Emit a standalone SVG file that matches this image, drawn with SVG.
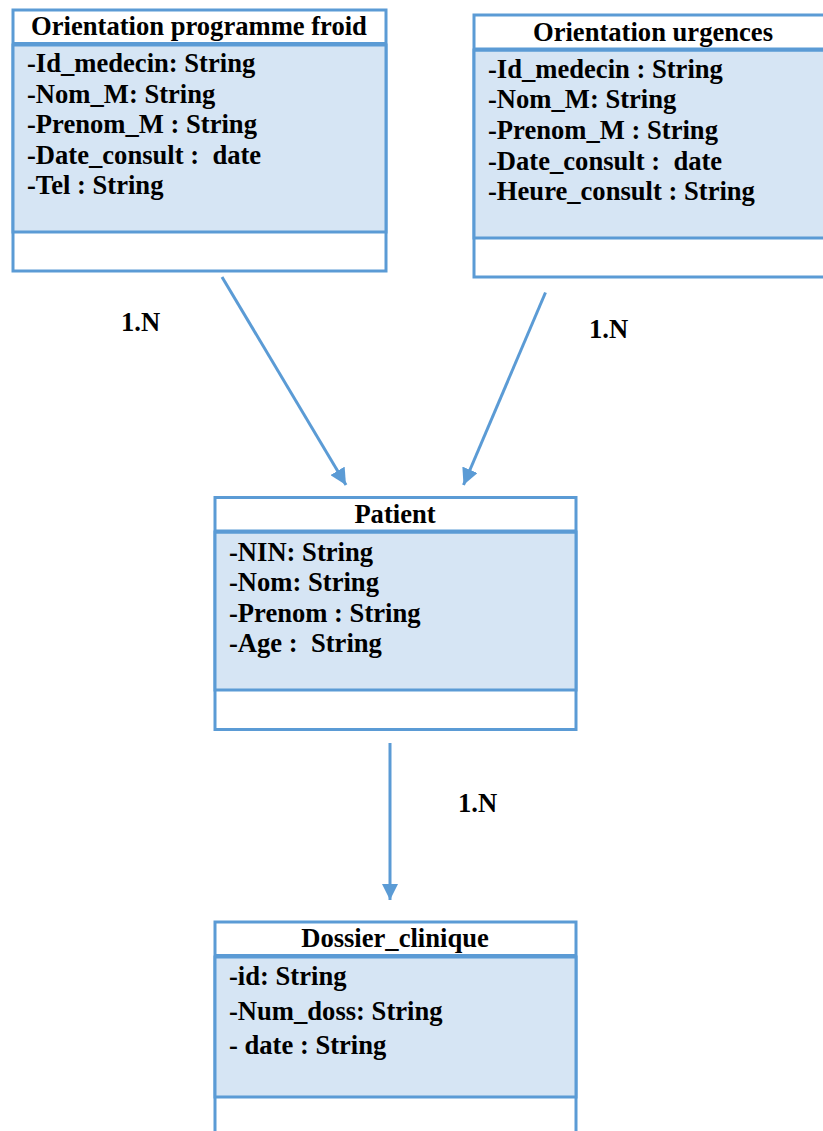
<svg xmlns="http://www.w3.org/2000/svg" width="823" height="1131" viewBox="0 0 823 1131">
  <style>
    .frame { fill: #ffffff; stroke: #5B9BD5; stroke-width: 3; }
    .attrs { fill: #D6E5F4; stroke: #5B9BD5; stroke-width: 3; }
    .hdr { stroke: #5B9BD5; stroke-width: 4; fill: none; }
    text { font-family: "Liberation Serif", "Times New Roman", serif; font-weight: bold; font-size: 26.6px; fill: #000000; white-space: pre; }
    .title { text-anchor: middle; }
    .link { stroke: #5B9BD5; stroke-width: 3; fill: none; }
  </style>
  <defs>
    <marker id="arrow" viewBox="0 0 10 10" refX="10" refY="5" markerWidth="5.5" markerHeight="5.5" markerUnits="strokeWidth" orient="auto">
      <path d="M0,0 L10,5 L0,10 Z" fill="#5B9BD5"/>
    </marker>
  </defs>

  <rect width="823" height="1131" fill="#ffffff"/>

  <!-- Class: Orientation programme froid -->
  <g id="orientation-programme-froid">
    <rect class="frame" x="13" y="10" width="373" height="261"/>
    <rect class="attrs" x="13" y="45" width="373" height="187"/>
    <line class="hdr" x1="13" y1="44" x2="386" y2="44"/>
    <text class="title" x="199" y="35">Orientation programme froid</text>
    <text x="27" y="72">-Id_medecin: String</text>
    <text x="27" y="103">-Nom_M: String</text>
    <text x="27" y="133">-Prenom_M : String</text>
    <text x="27" y="164">-Date_consult :  date</text>
    <text x="27" y="194">-Tel : String</text>
  </g>

  <!-- Class: Orientation urgences (runs past the right edge) -->
  <g id="orientation-urgences">
    <rect class="frame" x="474" y="15" width="360" height="262"/>
    <rect class="attrs" x="474" y="50" width="360" height="188"/>
    <line class="hdr" x1="474" y1="49.5" x2="834" y2="49.5"/>
    <text class="title" x="653" y="41">Orientation urgences</text>
    <text x="488" y="78">-Id_medecin : String</text>
    <text x="488" y="108">-Nom_M: String</text>
    <text x="488" y="139">-Prenom_M : String</text>
    <text x="488" y="170">-Date_consult :  date</text>
    <text x="488" y="200">-Heure_consult : String</text>
  </g>

  <!-- Class: Patient -->
  <g id="patient">
    <rect class="frame" x="215" y="497.5" width="361" height="232"/>
    <rect class="attrs" x="215" y="532" width="361" height="158"/>
    <line class="hdr" x1="215" y1="531.5" x2="576" y2="531.5"/>
    <text class="title" x="395" y="523">Patient</text>
    <text x="229" y="561">-NIN: String</text>
    <text x="229" y="591">-Nom: String</text>
    <text x="229" y="622">-Prenom : String</text>
    <text x="229" y="652">-Age :  String</text>
  </g>

  <!-- Class: Dossier_clinique (runs past the bottom edge) -->
  <g id="dossier-clinique">
    <rect class="frame" x="215" y="922" width="361" height="230"/>
    <rect class="attrs" x="215" y="957" width="361" height="140"/>
    <line class="hdr" x1="215" y1="956" x2="576" y2="956"/>
    <text class="title" x="395" y="947">Dossier_clinique</text>
    <text x="229" y="985">-id: String</text>
    <text x="229" y="1020">-Num_doss: String</text>
    <text x="229" y="1054">- date : String</text>
  </g>

  <!-- Associations -->
  <g id="connectors">
    <line class="link" x1="222" y1="277" x2="346" y2="485" marker-end="url(#arrow)"/>
    <line class="link" x1="545.5" y1="292.5" x2="463.5" y2="485" marker-end="url(#arrow)"/>
    <line class="link" x1="390" y1="743" x2="390" y2="900" marker-end="url(#arrow)"/>
    <text x="121" y="331">1.N</text>
    <text x="589" y="338">1.N</text>
    <text x="458" y="812">1.N</text>
  </g>
</svg>
